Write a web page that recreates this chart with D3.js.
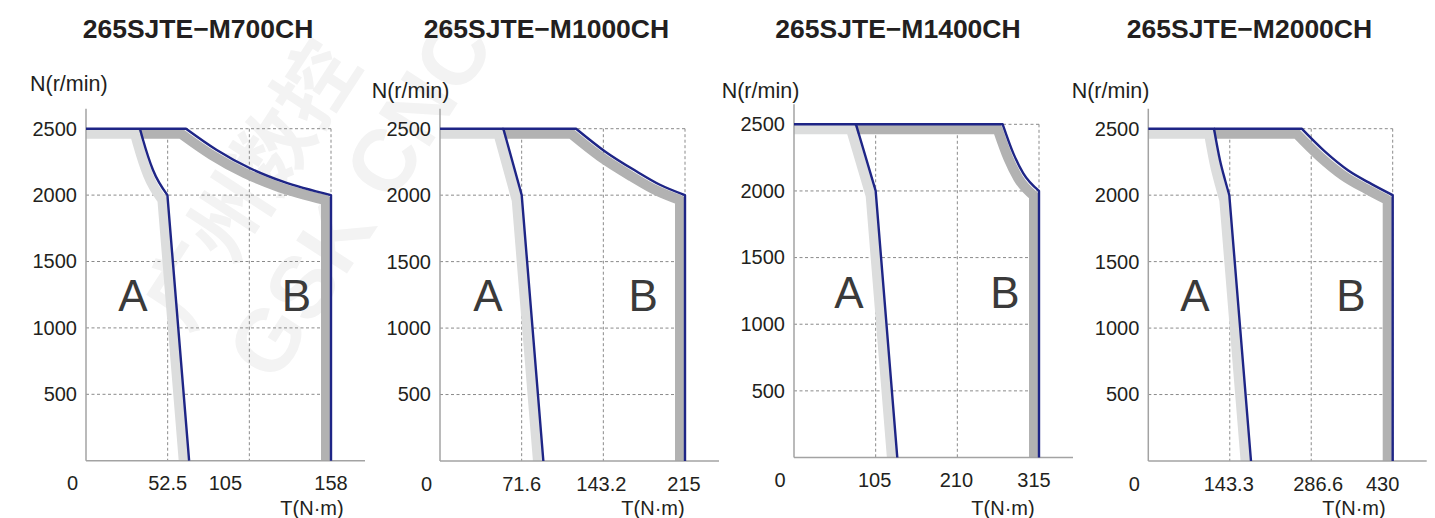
<!DOCTYPE html>
<html>
<head>
<meta charset="utf-8">
<script src="https://cdn.jsdelivr.net/npm/d3@7"></script>
<style>
  body { margin: 0; background: #fff; }
  svg text { font-family: "Liberation Sans", Arial, Helvetica, sans-serif; fill: #231f20; }
</style>
</head>
<body>
<svg id="chart" width="1435" height="518"></svg>
<script>
// ---- data ----
const titles = ["265SJTE\u2212M700CH", "265SJTE\u2212M1000CH", "265SJTE\u2212M1400CH", "265SJTE\u2212M2000CH"];
const torqueMax = [158, 215, 315, 430];
const xTickLabels = [
  ["0", "52.5", "105", "158"],
  ["0", "71.6", "143.2", "215"],
  ["0", "105", "210", "315"],
  ["0", "143.3", "286.6", "430"]
];
const speedTicks = [500, 1000, 1500, 2000, 2500];

// continuous zone boundary (A): [torque, speed]
const curveA = [
  [[0, 2500], [34.8, 2500], [36.8, 2415], [43.2, 2189], [52.5, 2000], [66.5, 0]],
  [[0, 2500], [55.6, 2500], [71.7, 2000], [90.7, 0]],
  [[0, 2500], [79.7, 2500], [105, 2000], [132.8, 0]],
  [[0, 2500], [115.6, 2500], [126, 2265], [135, 2114], [142.5, 2000], [180.7, 0]]
];
// short-time zone boundary (B)
const curveB = [
  [[0, 2500], [64.5, 2500], [84.3, 2340], [105.8, 2202], [127.1, 2101], [158, 2000], [158, 0]],
  [[0, 2500], [119.4, 2500], [144.8, 2329], [172.6, 2178], [193, 2078], [215, 2000], [215, 0]],
  [[0, 2500], [268.3, 2500], [282, 2282], [294.8, 2132], [315, 2000], [315, 0]],
  [[0, 2500], [269.9, 2500], [310.9, 2327], [351.9, 2185], [393, 2083], [430, 2000], [430, 0]]
];

// ---- layout ----
const plotLeft = [86, 440, 794, 1148.3];
const plotRight = [331, 685, 1039, 1392.7];
const plotTop = [128.7, 128.7, 124.3, 128.7];
const plotBottom = [460.7, 461, 457.5, 461];
const titleX = [198, 546.5, 898, 1249.5];
const yLabelPos = [[30, 90.7], [371.7, 98.3], [721.7, 98.3], [1071.7, 98.3]];
const xLabelShift = [[-13.5, 0, -24, 0], [-13.5, 0, -2, -1], [-14, -1, -1, -5], [-14, -1, 7, -10]];
const tLabelX = [312, 653, 1003, 1354];
const zoneLabelAt = [[0.192, 0.859], [0.196, 0.829], [0.224, 0.861], [0.191, 0.829]];

const blue = "#1e2586", lightBand = "#dcdddd", darkBand = "#b2b2b2";

const svg = d3.select("#chart");

// faint watermark
const wm = svg.append("g").style("font-weight", "bold");
wm.append("text").attr("transform", "translate(275,200) rotate(-57)")
  .attr("text-anchor", "middle").style("font-size", "80px").style("fill", "#f3f3f3")
  .style("font-family", "'Noto Sans CJK SC', sans-serif").text("广州数控");
wm.append("text").attr("transform", "translate(385,215) rotate(-57)")
  .attr("text-anchor", "middle").style("font-size", "88px").style("fill", "#f3f3f3")
  .text("GSK CNC");

function shapePath(pts, x, y) {
  const i0 = pts.map(p => p[1]).lastIndexOf(2500);
  const i1 = pts.findIndex(p => p[1] === 2000);
  const straight = d3.line().x(d => x(d[0])).y(d => y(d[1]));
  const smooth = d3.line().x(d => x(d[0])).y(d => y(d[1])).curve(d3.curveMonotoneX);
  let d = i0 > 0 ? straight(pts.slice(0, i0 + 1)) : `M${x(pts[0][0])},${y(pts[0][1])}`;
  d += smooth(pts.slice(i0, i1 + 1)).replace(/^M/, "L");
  d += straight(pts.slice(i1)).replace(/^M/, "L");
  return d;
}

titles.forEach((title, i) => {
  const tmax = torqueMax[i];
  const x = d3.scaleLinear().domain([0, tmax]).range([plotLeft[i], plotRight[i]]);
  const y = d3.scaleLinear().domain([0, 2500]).range([plotBottom[i], plotTop[i]]);
  const g = svg.append("g");

  // title
  g.append("text").attr("x", titleX[i]).attr("y", 38).attr("text-anchor", "middle")
    .style("font-size", "26.5px").style("font-weight", "bold").text(title);

  // grid
  const gridX = [1, 2, 3].map(k => tmax * k / 3);
  g.selectAll(".hg").data(speedTicks).enter().append("line")
    .attr("x1", x(0)).attr("x2", x(tmax)).attr("y1", d => y(d)).attr("y2", d => y(d))
    .attr("stroke", "#8a8a8a").attr("stroke-width", 1).attr("stroke-dasharray", "3,2.5");
  g.selectAll(".vg").data(gridX).enter().append("line")
    .attr("x1", d => x(d)).attr("x2", d => x(d)).attr("y1", y(2500)).attr("y2", y(0))
    .attr("stroke", "#8a8a8a").attr("stroke-width", 1).attr("stroke-dasharray", "3,2.5");

  // gray bands, clipped to the plot
  const clipId = "clip" + i;
  svg.append("clipPath").attr("id", clipId).append("rect")
    .attr("x", x(0)).attr("y", y(2500) - 20)
    .attr("width", x(tmax) - x(0) + 40).attr("height", y(0) - y(2500) + 20);
  const bands = g.append("g").attr("clip-path", `url(#${clipId})`)
    .append("g").attr("transform", "translate(-5,5)");
  const a1 = curveA[i][1][0];
  const darkPts = [[a1, 2500]].concat(curveB[i].slice(1));
  bands.append("path").attr("d", shapePath(darkPts, x, y))
    .attr("fill", "none").attr("stroke", darkBand).attr("stroke-width", 10)
    .attr("stroke-linejoin", "round");
  bands.append("path").attr("d", shapePath(curveA[i], x, y))
    .attr("fill", "none").attr("stroke", lightBand).attr("stroke-width", 10)
    .attr("stroke-linejoin", "round");

  // axes lines
  g.append("line").attr("x1", x(0)).attr("x2", x(0)).attr("y1", y(2500) - 20).attr("y2", y(0))
    .attr("stroke", "#a3a3a3").attr("stroke-width", 1.5);
  g.append("line").attr("x1", x(0)).attr("x2", x(tmax) + 34).attr("y1", y(0)).attr("y2", y(0))
    .attr("stroke", "#a3a3a3").attr("stroke-width", 1.5);

  // characteristic lines
  g.append("path").attr("d", shapePath(curveB[i], x, y))
    .attr("fill", "none").attr("stroke", blue).attr("stroke-width", 2.4).attr("stroke-linejoin", "round");
  g.append("path").attr("d", shapePath(curveA[i].slice(1), x, y))
    .attr("fill", "none").attr("stroke", blue).attr("stroke-width", 2.4).attr("stroke-linejoin", "round");

  // y tick labels
  const yAxis = g.append("g").attr("transform", `translate(${x(0)},0)`)
    .call(d3.axisLeft(y).tickValues(speedTicks).tickFormat(d3.format("d")).tickSize(0).tickPadding(9));
  yAxis.select(".domain").remove();
  yAxis.selectAll("text").style("font-size", "20px").style("font-family", null).attr("fill", null);

  // x tick labels
  g.selectAll(".xt").data(xTickLabels[i]).enter().append("text")
    .attr("x", (d, k) => x(tmax * k / 3) + xLabelShift[i][k])
    .attr("y", y(0) + 29.5).attr("text-anchor", "middle")
    .style("font-size", "20px").text(d => d);

  // axis titles
  g.append("text").attr("x", yLabelPos[i][0]).attr("y", yLabelPos[i][1])
    .style("font-size", "21.5px").text("N(r/min)");
  g.append("text").attr("x", tLabelX[i]).attr("y", 515).attr("text-anchor", "middle")
    .style("font-size", "20px").text("T(N\u00b7m)");

  // zone labels
  g.selectAll(".zone").data(["A", "B"]).enter().append("text")
    .attr("x", (d, k) => x(tmax * zoneLabelAt[i][k]))
    .attr("y", y(0) - 150).attr("text-anchor", "middle")
    .style("font-size", "44px").style("fill", "#3a3a3a").text(d => d);
});
</script>
</body>
</html>
